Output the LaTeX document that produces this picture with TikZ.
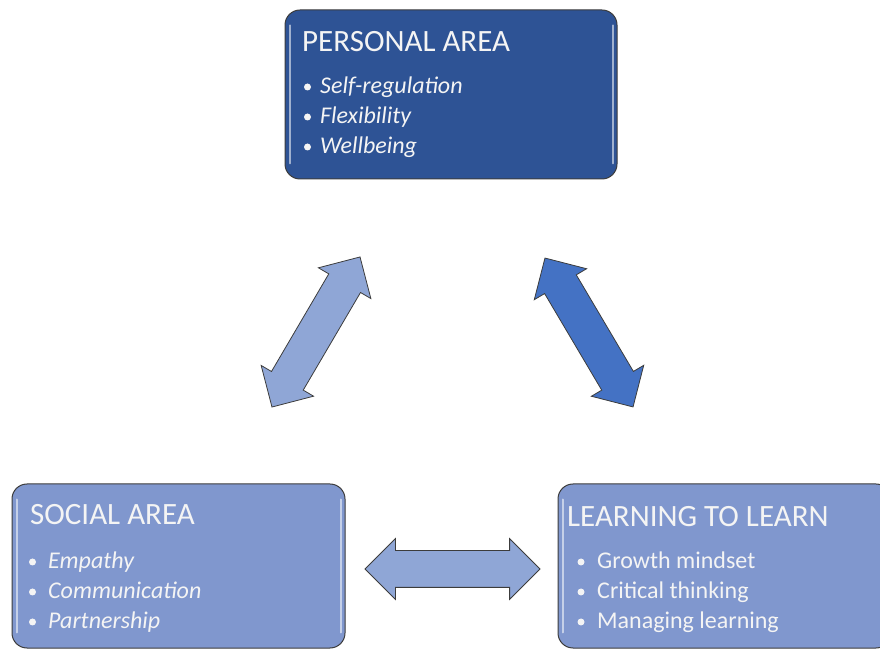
\documentclass[tikz,border=0pt]{standalone}
\usepackage{fontspec}
\setmainfont{Carlito}
\usetikzlibrary{shapes.arrows}

\definecolor{personalblue}{RGB}{46,83,149}
\definecolor{areablue}{RGB}{128,151,206}
\definecolor{paleblue}{RGB}{143,166,214}
\definecolor{midblue}{RGB}{68,114,196}
\definecolor{framegray}{RGB}{60,60,60}
\definecolor{textwhite}{RGB}{244,244,244}

\tikzset{
  areabox/.style={draw=framegray, line width=1, rounded corners=15,
    minimum width=333, minimum height=164, inner sep=0},
  gloss/.style={white, opacity=.55, line width=2, line cap=round},
  areatitle/.style={anchor=base west, inner sep=0, text=textwhite,
    font=\fontsize{31}{31}\selectfont},
  areaitem/.style={anchor=base west, inner sep=0, text=textwhite,
    font=\fontsize{24}{24}\selectfont},
  bulletdot/.style={fill=textwhite},
  linkarrow/.style={double arrow, draw=framegray, line width=.8,
    minimum width=60, double arrow head extend=12, inner xsep=0,
    inner ysep=18, double arrow tip angle=90}
}

\begin{document}
\begin{tikzpicture}[x=1pt, y=1pt]
  \useasboundingbox (0,0) rectangle (880,650);

  \node[areabox, fill=personalblue, minimum width=332, minimum height=169]
    (personal) at (451,555.5) {};
  \node[areabox, fill=areablue] (social) at (178.5,84) {};
  \node[areabox, fill=areablue] (learning) at (724.5,84) {};

  \draw[gloss] ([xshift=5,yshift=-16]personal.north west) -- ([xshift=5,yshift=16]personal.south west);
  \draw[gloss] ([xshift=-5,yshift=-16]personal.north east) -- ([xshift=-5,yshift=16]personal.south east);
  \draw[gloss] ([xshift=5,yshift=-16]social.north west) -- ([xshift=5,yshift=16]social.south west);
  \draw[gloss] ([xshift=-5,yshift=-16]social.north east) -- ([xshift=-5,yshift=16]social.south east);
  \draw[gloss] ([xshift=5,yshift=-16]learning.north west) -- ([xshift=5,yshift=16]learning.south west);

  \node[areatitle] (personal title) at (302,598) {PERSONAL AREA};
  \node[areaitem] (personal 1) at (320,556) {\textit{Self-regulation}};
  \node[areaitem] (personal 2) at (320,526) {\textit{Flexibility}};
  \node[areaitem] (personal 3) at (320,496) {\textit{Wellbeing}};
  \foreach \y in {556,526,496}
    \fill[bulletdot] (307.5,\y+7) circle (3.5);

  \node[areatitle] (social title) at (30,125) {SOCIAL AREA};
  \node[areaitem] (social 1) at (48,81) {\textit{Empathy}};
  \node[areaitem] (social 2) at (48,51) {\textit{Communication}};
  \node[areaitem] (social 3) at (48,21) {\textit{Partnership}};
  \foreach \y in {81,51,21}
    \fill[bulletdot] (32.5,\y+7) circle (3.5);

  \node[areatitle] (learning title) at (567,123) {LEARNING TO LEARN};
  \node[areaitem] (learning 1) at (597,81) {Growth mindset};
  \node[areaitem] (learning 2) at (597,51) {Critical thinking};
  \node[areaitem] (learning 3) at (597,21) {Managing learning};
  \foreach \y in {81,51,21}
    \fill[bulletdot] (581,\y+7) circle (3.5);

  \node[linkarrow, fill=paleblue, minimum height=174, rotate=59.6]
    (social-personal) at (316,318) {};
  \node[linkarrow, fill=midblue, minimum height=173, rotate=-59.4]
    (personal-learning) at (589,317.5) {};
  \node[linkarrow, fill=paleblue, minimum height=175]
    (social-learning) at (452.5,81) {};
\end{tikzpicture}
\end{document}
